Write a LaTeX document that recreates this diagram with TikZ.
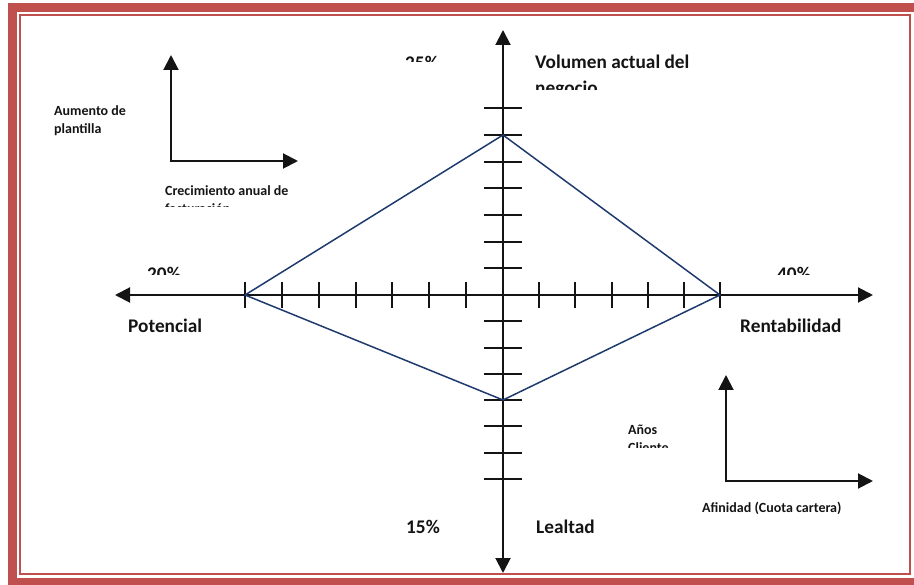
\documentclass[tikz,border=0pt]{standalone}
\usepackage{fontspec}
\setmainfont{Carlito}
\usetikzlibrary{arrows.meta}
\definecolor{framered}{HTML}{C0504D}
\definecolor{navyline}{HTML}{1F3B6E}
\definecolor{ink}{HTML}{141414}
\begin{document}
\begin{tikzpicture}[x=1pt,y=-1pt,
  tip/.tip={Triangle[length=15pt,width=15pt]},
  axis/.style={line width=2pt, draw=ink},
  tickmark/.style={line width=2pt, draw=ink},
  big/.style={font=\fontsize{19.3}{22}\selectfont\bfseries, inner sep=0pt, anchor=base west, text=ink},
  small/.style={font=\fontsize{14}{17}\selectfont\bfseries, inner sep=0pt, anchor=base west, text=ink},
  ]
\useasboundingbox (0,0) rectangle (914,585);
\clip (0,0) rectangle (914,585);

% page frame: thick band and thin inner rule
\draw[framered, line width=9pt] (12.5,7.5) rectangle (930,582.5);
\draw[framered, line width=2pt] (20,15) rectangle (910,574);

% main axes
\coordinate (O) at (503,295);
\coordinate (axT) at (503,30);
\coordinate (axB) at (503,573);
\coordinate (axL) at (115,295);
\coordinate (axR) at (873,295);
\draw[axis, tip-tip] (axL) -- (axR);
\draw[axis, tip-tip] (axT) -- (axB);

% ticks on the horizontal axis
\foreach \k [evaluate=\k as \xx using {round(245+36.86*\k)}] in {0,...,6}
  \draw[tickmark] (\xx,282) -- (\xx,308);
\foreach \k [evaluate=\k as \xx using {round(503+36.17*\k)}] in {1,...,6}
  \draw[tickmark] (\xx,282) -- (\xx,308);
% ticks on the vertical axis
\foreach \k [evaluate=\k as \yy using {round(295-26.67*\k)}] in {1,...,7}
  \draw[tickmark] (484,\yy) -- (522,\yy);
\foreach \k [evaluate=\k as \yy using {round(295+26.25*\k)}] in {1,...,7}
  \draw[tickmark] (484,\yy) -- (522,\yy);

% diamond
\coordinate (dT) at (503,135);
\coordinate (dR) at (720,295);
\coordinate (dB) at (503,400);
\coordinate (dL) at (245,295);
\draw[navyline, line width=1.5pt, line join=round] (dT) -- (dR) -- (dB) -- (dL) -- cycle;

% small axes, upper left
\coordinate (aUp) at (171,55);
\coordinate (aCorner) at (171,161);
\coordinate (aRight) at (298,161);
\draw[axis, tip-tip] (aUp) -- (aCorner) -- (aRight);

% small axes, lower right
\coordinate (bUp) at (726,375);
\coordinate (bCorner) at (726,481);
\coordinate (bRight) at (873,481);
\draw[axis, tip-tip] (bUp) -- (bCorner) -- (bRight);

% labels
\node[big] (volumen) at (535,69) {Volumen actual del};
\node[big] (potencial) at (128,333) {Potencial};
\node[big] (rentab) at (740,333) {Rentabilidad};
\node[big] (p15) at (406,533) {15\%};
\node[big] (lealtad) at (536,533) {Lealtad};
\node[small] (aumento) at (54,116) {Aumento de};
\node[small] (plantilla) at (54,134) {plantilla};
\node[small] (crec) at (165,196) {Crecimiento anual de};
\node[small] (anos) at (628,435) {Años};
\node[small] (afinidad) at (702,513) {Afinidad (Cuota cartera)};

% labels cut off by their text frames
\begin{scope}
  \clip (380,40) rectangle (470,62);
  \node[big] (p25) at (405,70) {25\%};
\end{scope}
\begin{scope}
  \clip (530,75) rectangle (720,90);
  \node[big] (negocio) at (535,95) {negocio};
\end{scope}
\begin{scope}
  \clip (130,255) rectangle (230,275);
  \node[big] (p20) at (147,281) {20\%};
\end{scope}
\begin{scope}
  \clip (760,255) rectangle (860,275);
  \node[big] (p40) at (777,281) {40\%};
\end{scope}
\begin{scope}
  \clip (160,200) rectangle (320,206.5);
  \node[small] (factur) at (165,214) {facturación};
\end{scope}
\begin{scope}
  \clip (620,440) rectangle (700,448);
  \node[small] (cliente) at (628,453) {Cliente};
\end{scope}
\end{tikzpicture}
\end{document}
